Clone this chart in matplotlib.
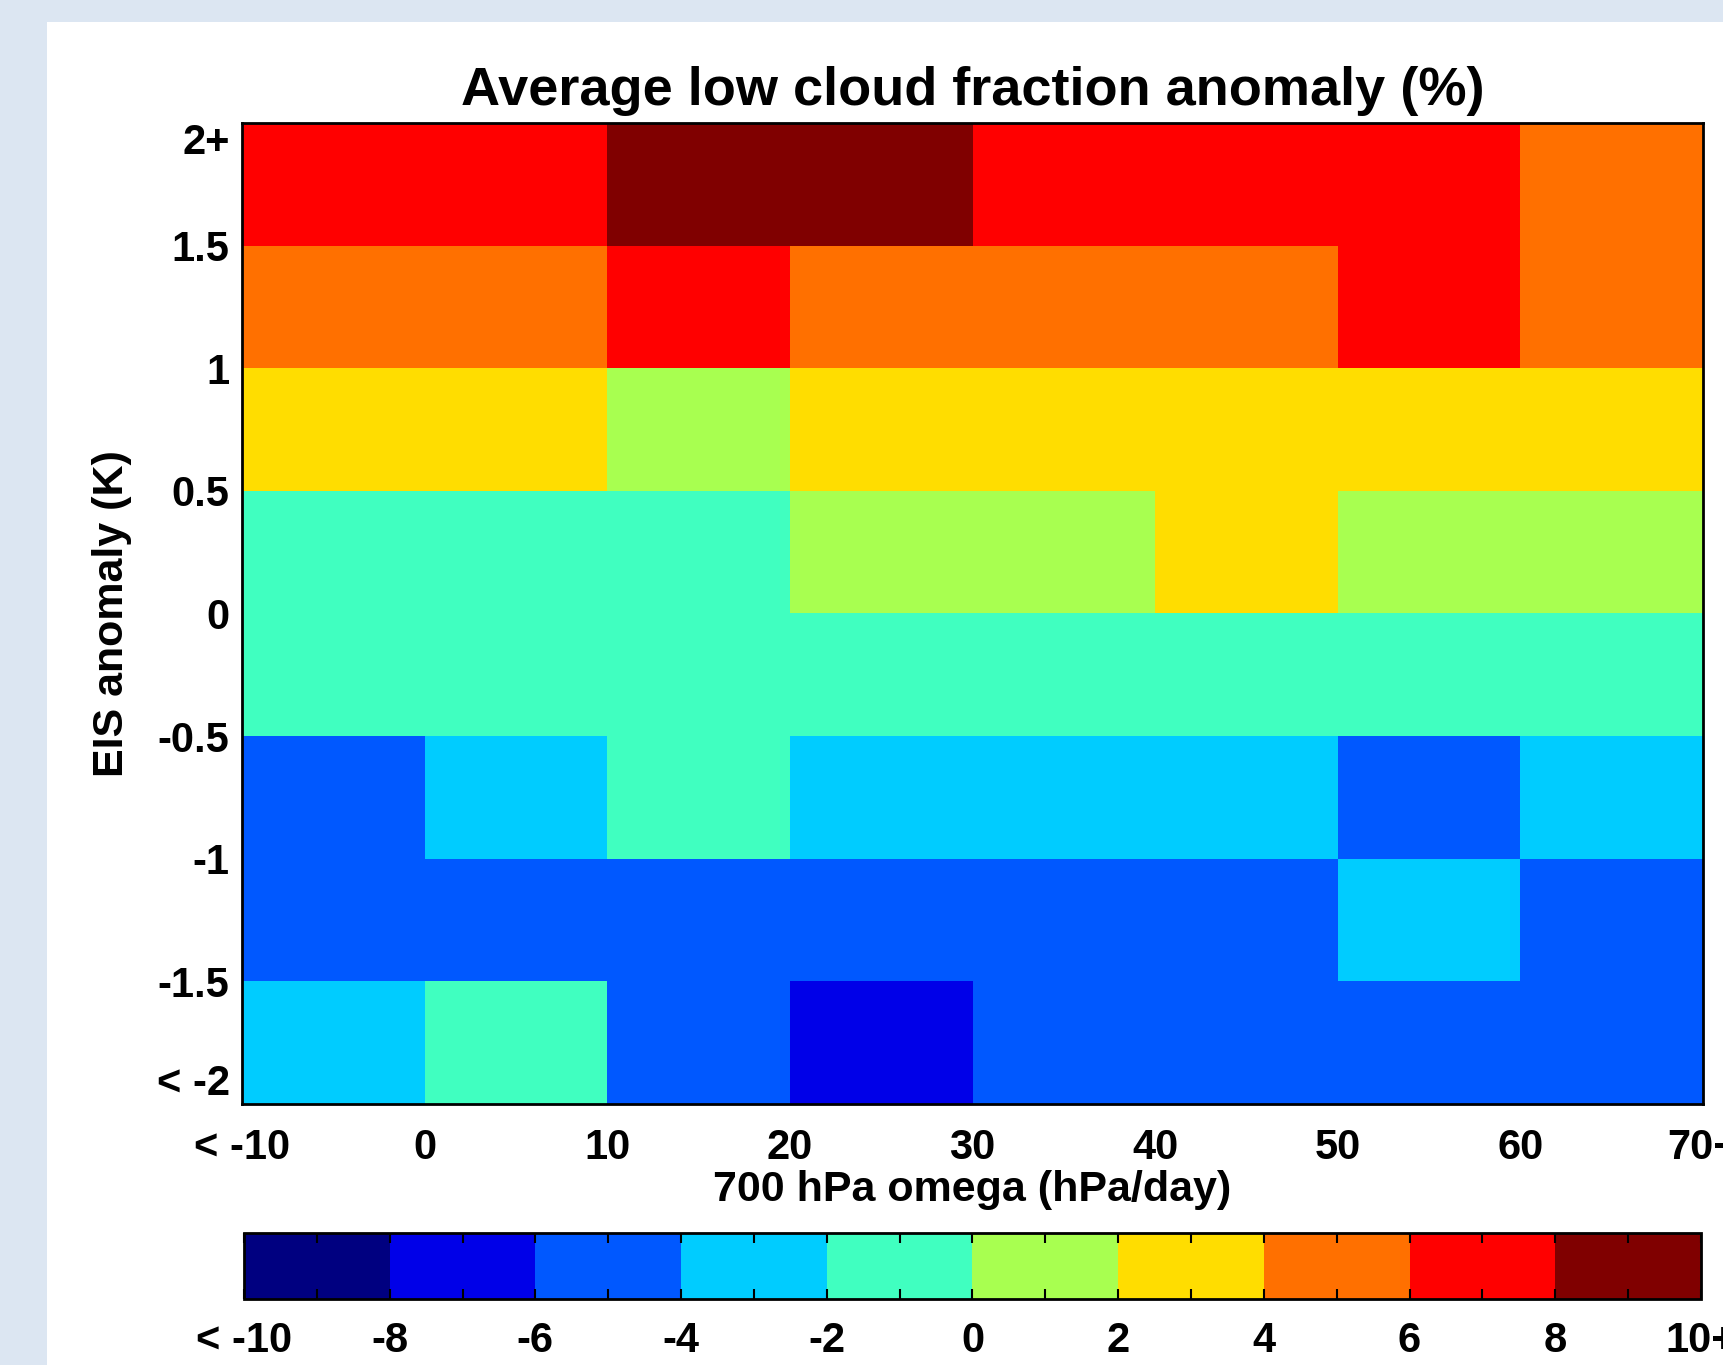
import matplotlib
matplotlib.use("Agg")
import matplotlib.pyplot as plt
from matplotlib.colors import ListedColormap, BoundaryNorm
from matplotlib.patches import Rectangle
import numpy as np

plt.rcParams["font.family"] = ["Liberation Sans", "DejaVu Sans"]
plt.rcParams["font.weight"] = "bold"

# --- data: ordinal bins, values are the colour-class midpoints (%) ---
x_labels = ["< -10", "0", "10", "20", "30", "40", "50", "60", "70+"]
y_labels = ["< -2", "-1.5", "-1", "-0.5", "0", "0.5", "1", "1.5", "2+"]
# rows from bottom (< -2) to top (2+), 8 omega columns each
anomaly = [
    [-3, -1, -5, -7, -5, -5, -5, -5],
    [-5, -5, -5, -5, -5, -5, -3, -5],
    [-5, -3, -1, -3, -3, -3, -5, -3],
    [-1, -1, -1, -1, -1, -1, -1, -1],
    [-1, -1, -1, 1, 1, 3, 1, 1],
    [3, 3, 1, 3, 3, 3, 3, 3],
    [5, 5, 7, 5, 5, 5, 7, 5],
    [7, 7, 9, 9, 7, 7, 7, 5],
]
levels = [-10, -8, -6, -4, -2, 0, 2, 4, 6, 8, 10]
level_labels = ["< -10", "-8", "-6", "-4", "-2", "0", "2", "4", "6", "8", "10+"]
colors = ["#000080", "#0000e8", "#0058ff", "#00ccff", "#40ffc0",
          "#a8ff50", "#ffdd00", "#ff7000", "#ff0000", "#800000"]

cmap = ListedColormap(colors)
norm = BoundaryNorm(levels, cmap.N)

fig = plt.figure(figsize=(17.23, 13.65), dpi=100)
fig.patch.set_facecolor("#dce6f2")
# white panel behind everything (screenshot frame)
bg = fig.add_axes([47 / 1723, 0, 1 - 47 / 1723, 1 - 22 / 1365], zorder=-10)
bg.set_axis_off()
bg.add_patch(Rectangle((0, 0), 1, 1, transform=bg.transAxes,
                       facecolor="white", edgecolor="none"))

ax = fig.add_axes([0.1405, 0.1912, 0.8479, 0.7187])
xe = np.arange(len(x_labels))
ye = np.arange(len(y_labels))
mesh = ax.pcolormesh(xe, ye, np.array(anomaly), cmap=cmap, norm=norm)
ax.set_xticks(xe)
ax.set_xticklabels(x_labels)
ax.set_yticks(ye)
ax.set_yticklabels(y_labels)
ax.tick_params(length=0, labelsize=30, pad=17)
ax.tick_params(axis="y", pad=9)
# end labels sit inside the axis span
ylabs = ax.get_yticklabels()
ylabs[0].set_va("bottom")
ylabs[-1].set_va("top")
for s in ax.spines.values():
    s.set_linewidth(2)
ax.set_title("Average low cloud fraction anomaly (%)", fontsize=39,
             fontweight="bold", pad=13)
ax.set_xlabel("700 hPa omega (hPa/day)", fontsize=31, fontweight="bold", labelpad=2)
ax.set_ylabel("EIS anomaly (K)", fontsize=31, fontweight="bold", labelpad=18)

cax = fig.add_axes([0.1416, 0.0484, 0.8456, 0.0483])
cb = fig.colorbar(mesh, cax=cax, orientation="horizontal", ticks=levels)
cb.ax.set_xticklabels(level_labels)
cb.ax.set_xticks(np.arange(-9, 10, 2), minor=True)
cb.ax.tick_params(which="both", direction="in", top=True, bottom=True,
                  length=7, width=1.5, labelsize=30, pad=16)
cb.outline.set_linewidth(2)

fig.savefig("out.png", dpi=100)
